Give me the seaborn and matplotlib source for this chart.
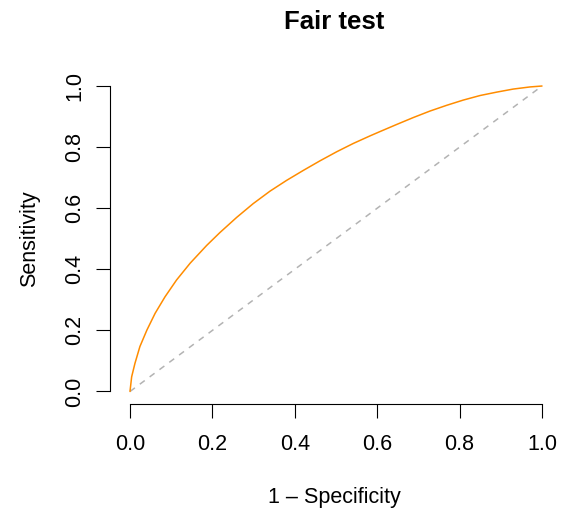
import matplotlib
matplotlib.use("Agg")
import matplotlib.pyplot as plt
import seaborn as sns
import pandas as pd

# ROC curve values
fpr = [0.0, 0.004, 0.012, 0.024, 0.041, 0.061, 0.085, 0.113, 0.146, 0.186,
       0.218, 0.259, 0.299, 0.340, 0.380, 0.421, 0.461, 0.502, 0.542, 0.583,
       0.607, 0.647, 0.688, 0.728, 0.769, 0.809, 0.850, 0.890, 0.930, 0.971, 1.0]
tpr = [0.0, 0.048, 0.092, 0.147, 0.201, 0.256, 0.310, 0.365, 0.420, 0.478,
       0.520, 0.570, 0.615, 0.656, 0.691, 0.724, 0.755, 0.785, 0.812, 0.837,
       0.851, 0.874, 0.897, 0.918, 0.937, 0.954, 0.969, 0.980, 0.990, 0.997, 1.0]
diag_x = [0.0, 1.0]
diag_y = [0.0, 1.0]
ticks = [0.0, 0.2, 0.4, 0.6, 0.8, 1.0]
tick_labels = ["0.0", "0.2", "0.4", "0.6", "0.8", "1.0"]

sns.set_theme(style="white")
plt.rcParams['font.family'] = ['Liberation Sans', 'DejaVu Sans']

W, H = 562, 512
fig = plt.figure(figsize=(W / 100, H / 100), dpi=100)
left, right = 110, 558.5
top, bottom = 73.8, 403.7
ax = fig.add_axes([left / W, 1 - bottom / H, (right - left) / W, (bottom - top) / H])

df = pd.DataFrame({"fpr": fpr, "tpr": tpr})
ddf = pd.DataFrame({"x": diag_x, "y": diag_y})
sns.lineplot(data=ddf, x="x", y="y", ax=ax, color="#b3b3b3", lw=1.1,
             linestyle=(0, (4, 4)), sort=False, estimator=None)
sns.lineplot(data=df, x="fpr", y="tpr", ax=ax, color="darkorange", lw=1.1,
             sort=False, estimator=None)

ax.set_xlim(-20 / 412, 1 + 16.5 / 412)
ax.set_ylim(-0.04, 1.04)
ax.set_xticks(ticks)
ax.set_xticklabels(tick_labels)
ax.set_yticks(ticks)
ax.set_yticklabels(tick_labels, rotation=90, va="center")

for s in ["top", "right"]:
    ax.spines[s].set_visible(False)
for s in ["left", "bottom"]:
    ax.spines[s].set_color("black")
    ax.spines[s].set_linewidth(0.8)
ax.spines["bottom"].set_bounds(0, 1)
ax.spines["left"].set_bounds(0, 1)

ax.tick_params(axis="both", which="major", length=10, width=0.8, color="black",
               labelsize=15.5, labelcolor="black", direction="out",
               bottom=True, left=True)
ax.tick_params(axis="x", pad=12)
ax.tick_params(axis="y", pad=8)

ax.set_xlabel("1 \u2013 Specificity", fontsize=15.5, labelpad=23, color="black")
ax.set_ylabel("Sensitivity", fontsize=15.5, labelpad=17, color="black")
ax.set_title("Fair test", fontsize=18.5, fontweight="bold", pad=32, color="black")
ax.grid(False)

fig.savefig("out.png", dpi=100)
